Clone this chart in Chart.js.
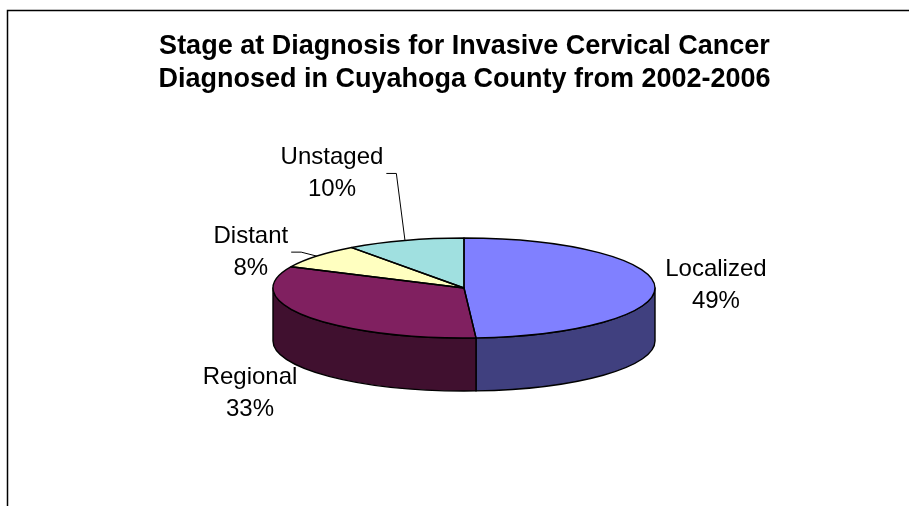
<!DOCTYPE html>
<html><head><meta charset="utf-8">
<script src="https://cdn.jsdelivr.net/npm/chart.js@4.4.1/dist/chart.umd.min.js"></script>
<style>html,body{margin:0;padding:0;background:#fff;} canvas{display:block;}</style>
</head><body>
<canvas id="c" width="909" height="506"></canvas>
<script>
const categories = ['Localized', 'Regional', 'Distant', 'Unstaged'];
const percentValues = [49, 33, 8, 10];
const titleLines = ['Stage at Diagnosis for Invasive Cervical Cancer', 'Diagnosed in Cuyahoga County from 2002-2006'];
const topColors = ['#8080FF', '#802060', '#FFFFC0', '#A0E0E0'];
const sideColors = ['#40407F', '#40102F', '#80805F', '#507070'];

const FONT = '"Liberation Sans", Arial, Helvetica, sans-serif';
const PIE = { cx: 464, cy: 288, rx: 191, ry: 50, depth: 53 };
// label block offsets from the slice's rim point at mid-angle
const LABEL_OFFSETS = [[61, -1], [-56, 77], [-66, -4], [-73, -67]];
const LEADERS = [false, false, true, true];
const LABEL_FONT_SIZE = 24;
const LABEL_LINE_GAP = 32;

function arcEls(chart) { return chart.getDatasetMeta(0).data; }

const pie3d = {
  id: 'pie3d',
  beforeDraw(chart) {
    const ctx = chart.ctx;
    ctx.save();
    ctx.fillStyle = '#fff';
    ctx.fillRect(0, 0, chart.width, chart.height);
    ctx.strokeStyle = '#000';
    ctx.lineWidth = 1.5;
    ctx.beginPath();
    ctx.moveTo(7.5, chart.height);
    ctx.lineTo(7.5, 10.5);
    ctx.lineTo(chart.width, 10.5);
    ctx.stroke();
    ctx.restore();
  },
  beforeDatasetsDraw(chart) {
    const ctx = chart.ctx;
    const { cx, cy, rx, ry, depth } = PIE;
    ctx.save();
    ctx.strokeStyle = '#000';
    ctx.lineWidth = 1.4;
    ctx.lineJoin = 'round';
    arcEls(chart).forEach((el, i) => {
      const a1 = Math.max(el.startAngle, 0);
      const a2 = Math.min(el.endAngle, Math.PI);
      if (a2 <= a1) return;
      ctx.beginPath();
      ctx.ellipse(cx, cy, rx, ry, 0, a1, a2, false);
      ctx.ellipse(cx, cy + depth, rx, ry, 0, a2, a1, true);
      ctx.closePath();
      ctx.fillStyle = sideColors[i];
      ctx.fill();
      ctx.stroke();
    });
    ctx.restore();
  },
  beforeDatasetDraw(chart) {
    const ctx = chart.ctx;
    const el = arcEls(chart)[0];
    const R = el.outerRadius;
    ctx.save();
    ctx.translate(PIE.cx, PIE.cy);
    ctx.scale(PIE.rx / R, PIE.ry / R);
    ctx.translate(-el.x, -el.y);
  },
  afterDatasetDraw(chart) {
    chart.ctx.restore();
  },
  afterDatasetsDraw(chart) {
    const ctx = chart.ctx;
    const { cx, cy, rx, ry } = PIE;
    const els = arcEls(chart);
    ctx.save();
    ctx.strokeStyle = '#000';
    ctx.lineWidth = 1.4;
    ctx.lineJoin = 'round';
    els.forEach(el => {
      ctx.beginPath();
      ctx.moveTo(cx, cy);
      ctx.ellipse(cx, cy, rx, ry, 0, el.startAngle, el.endAngle, false);
      ctx.closePath();
      ctx.stroke();
    });
    // labels
    ctx.font = LABEL_FONT_SIZE + 'px ' + FONT;
    ctx.fillStyle = '#000';
    ctx.textAlign = 'center';
    ctx.textBaseline = 'middle';
    els.forEach((el, i) => {
      const mid = (el.startAngle + el.endAngle) / 2;
      const ex = cx + rx * Math.cos(mid);
      const ey = cy + ry * Math.sin(mid);
      const px = ex + LABEL_OFFSETS[i][0];
      const py = ey + LABEL_OFFSETS[i][1];
      const l1 = categories[i];
      const l2 = chart.data.datasets[0].data[i] + '%';
      ctx.fillText(l1, px, py - LABEL_LINE_GAP / 2);
      ctx.fillText(l2, px, py + LABEL_LINE_GAP / 2);
      if (LEADERS[i]) {
        const hw = Math.max(ctx.measureText(l1).width, ctx.measureText(l2).width) / 2;
        const sx = px + hw + 3;
        ctx.beginPath();
        ctx.lineWidth = 1;
        ctx.moveTo(sx, py);
        ctx.lineTo(sx + 10, py);
        ctx.lineTo(ex, ey);
        ctx.stroke();
      }
    });
    ctx.restore();
  }
};

new Chart(document.getElementById('c'), {
  type: 'pie',
  data: {
    labels: categories,
    datasets: [{
      data: percentValues,
      backgroundColor: topColors,
      borderWidth: 0,
      hoverOffset: 0,
      clip: false
    }]
  },
  options: {
    responsive: false,
    animation: false,
    events: [],
    layout: { padding: { left: 20 } },
    plugins: {
      legend: { display: false },
      tooltip: { enabled: false },
      title: {
        display: true,
        text: titleLines,
        color: '#000',
        font: { family: FONT, size: 27, weight: 'bold', lineHeight: 1.22 },
        padding: { top: 30, bottom: 0 }
      }
    }
  },
  plugins: [pie3d]
});
</script>
</body></html>
